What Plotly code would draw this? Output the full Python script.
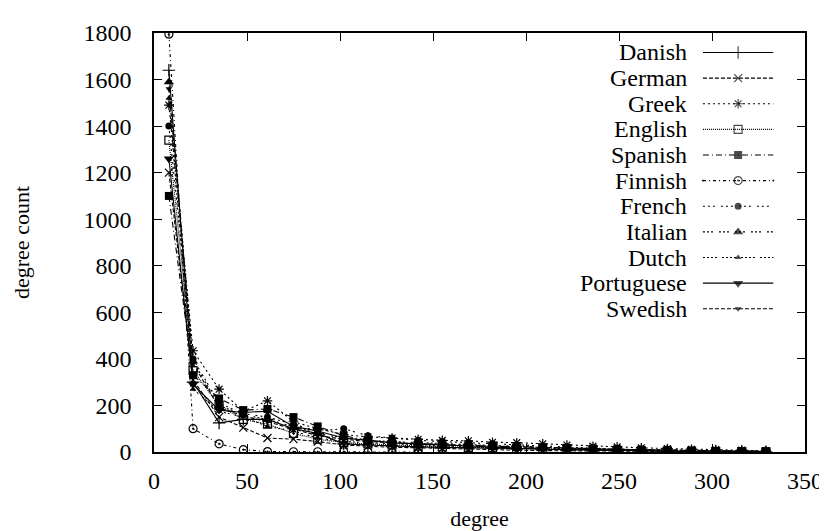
import plotly.graph_objects as go

degree = [8, 21, 35, 48, 61, 75, 88, 102, 115, 128, 142, 155, 169, 182, 195,
          209, 222, 236, 249, 262, 276, 289, 302, 316, 329]

danish = [1640, 300, 125, 140, 140, 100, 80, 35, 30, 25, 22, 20, 18, 15, 12, 10, 8, 6, 5, 4, 3, 2, 2, 1, 1]
german = [1200, 310, 150, 105, 60, 55, 45, 30, 25, 20, 18, 15, 12, 10, 8, 6, 5, 4, 3, 2, 2, 1, 1, 1, 0]
greek = [1490, 435, 270, 175, 220, 130, 100, 75, 65, 60, 55, 50, 48, 42, 40, 35, 30, 25, 22, 18, 15, 12, 10, 8, 5]
english = [1340, 350, 200, 140, 120, 80, 55, 40, 35, 30, 25, 22, 20, 18, 15, 12, 10, 8, 6, 5, 4, 3, 2, 2, 1]
spanish = [1100, 330, 230, 180, 185, 150, 110, 70, 50, 40, 35, 30, 28, 25, 22, 20, 18, 15, 12, 10, 8, 6, 5, 4, 3]
finnish = [1795, 100, 35, 10, 2, 1, 1, 1, 0, 0, 0]
french = [1400, 400, 210, 165, 150, 120, 90, 100, 70, 60, 50, 45, 40, 35, 30, 25, 20, 15, 12, 10, 8, 6, 5, 4, 3]
italian = [1590, 390, 200, 160, 140, 110, 80, 60, 50, 45, 40, 35, 30, 28, 25, 20, 15, 12, 10, 8, 6, 5, 4, 3, 2]
dutch = [1520, 270, 175, 150, 110, 90, 60, 45, 40, 35, 30, 25, 22, 20, 18, 15, 12, 10, 8, 6, 5, 4, 3, 2, 1]
portuguese = [1260, 290, 180, 170, 175, 110, 90, 60, 50, 40, 35, 30, 25, 20, 15, 12, 10, 8, 6, 5, 4, 3, 2, 2, 1]
swedish = [1560, 380, 190, 155, 130, 100, 70, 55, 45, 40, 35, 30, 28, 25, 22, 20, 18, 15, 12, 10, 8, 6, 5, 4, 3]

series = [
    ("Danish", danish, "solid", "cross-thin-open", 9),
    ("German", german, "4px,2px", "x-thin-open", 8),
    ("Greek", greek, "2px,3px", "asterisk-open", 8),
    ("English", english, "1px,1px", "square-open", 8),
    ("Spanish", spanish, "6px,3px,1px,3px", "square", 8),
    ("Finnish", finnish, "3px,3px,1px,3px", "circle-open-dot", 8),
    ("French", french, "2px,3px,2px,3px,2px,6px", "circle", 7),
    ("Italian", italian, "2px,2px,2px,2px,2px,6px", "triangle-up", 9),
    ("Dutch", dutch, "2px,2px,2px,2px,2px,2px,2px,5px", "triangle-up", 6),
    ("Portuguese", portuguese, "solid", "triangle-down", 9),
    ("Swedish", swedish, "4px,2px", "triangle-down", 6),
]

FONT = "Liberation Serif, Times New Roman, Times, serif"
W, H = 827, 531
ML, MR, MT, MB = 143, 27, 22, 79

# legend layout (page pixels)
LEG_TOP = 42
LEG_ROW = 26.3
KEY_X0, KEY_X1 = 697, 768
TEXT_RIGHT = 683

fig = go.Figure()
annotations = []
for i, (name, vals, dash, sym, size) in enumerate(series):
    marker_line = 1.2 if ("open" in sym or "thin" in sym) else 0
    line = dict(color="black", width=1.1, dash=dash)
    marker = dict(symbol=sym, size=size, color="black",
                  line=dict(color="black", width=marker_line))
    fig.add_trace(go.Scatter(
        x=degree[:len(vals)], y=vals, name=name, mode="lines+markers",
        line=line, marker=marker, showlegend=False,
    ))
    # gnuplot-style key sample
    ky = LEG_TOP + i * LEG_ROW
    kx_mid = (KEY_X0 + KEY_X1) / 2
    fig.add_trace(go.Scatter(
        x=[KEY_X0, kx_mid, KEY_X1], y=[ky, ky, ky], mode="lines+markers",
        line=line,
        marker=dict(symbol=sym, size=[0, size, 0], color="black",
                    line=dict(color="black", width=marker_line)),
        xaxis="x2", yaxis="y2", showlegend=False, hoverinfo="skip",
    ))
    annotations.append(dict(
        x=TEXT_RIGHT, y=ky, xref="x2", yref="y2", text=name, showarrow=False,
        xanchor="right", yanchor="middle",
        font=dict(family=FONT, size=24, color="black"),
    ))

axis_common = dict(
    showline=True, linecolor="black", linewidth=1.5, mirror="ticks",
    ticks="inside", ticklen=8, tickwidth=1, tickcolor="black",
    showgrid=False, zeroline=False,
    tickfont=dict(family=FONT, size=24, color="black"),
    title_font=dict(family=FONT, size=22, color="black"),
)

fig.update_layout(
    width=W, height=H,
    paper_bgcolor="white", plot_bgcolor="white",
    margin=dict(l=ML, r=MR, t=MT, b=MB),
    font=dict(family=FONT, size=22, color="black"),
    xaxis=dict(range=[0, 350], dtick=50, tick0=0, title_text="degree",
               title_standoff=18, ticklabelstandoff=6, **axis_common),
    yaxis=dict(range=[0, 1800], dtick=200, tick0=0, title_text="degree count",
               title_standoff=48, ticklabelstandoff=16, **axis_common),
    xaxis2=dict(overlaying="x", anchor="y2", range=[ML, W - MR], visible=False,
                fixedrange=True),
    yaxis2=dict(overlaying="y", anchor="x2", range=[H - MB, MT], visible=False,
                fixedrange=True),
    annotations=annotations,
    showlegend=False,
)

fig.write_html("out.html")
